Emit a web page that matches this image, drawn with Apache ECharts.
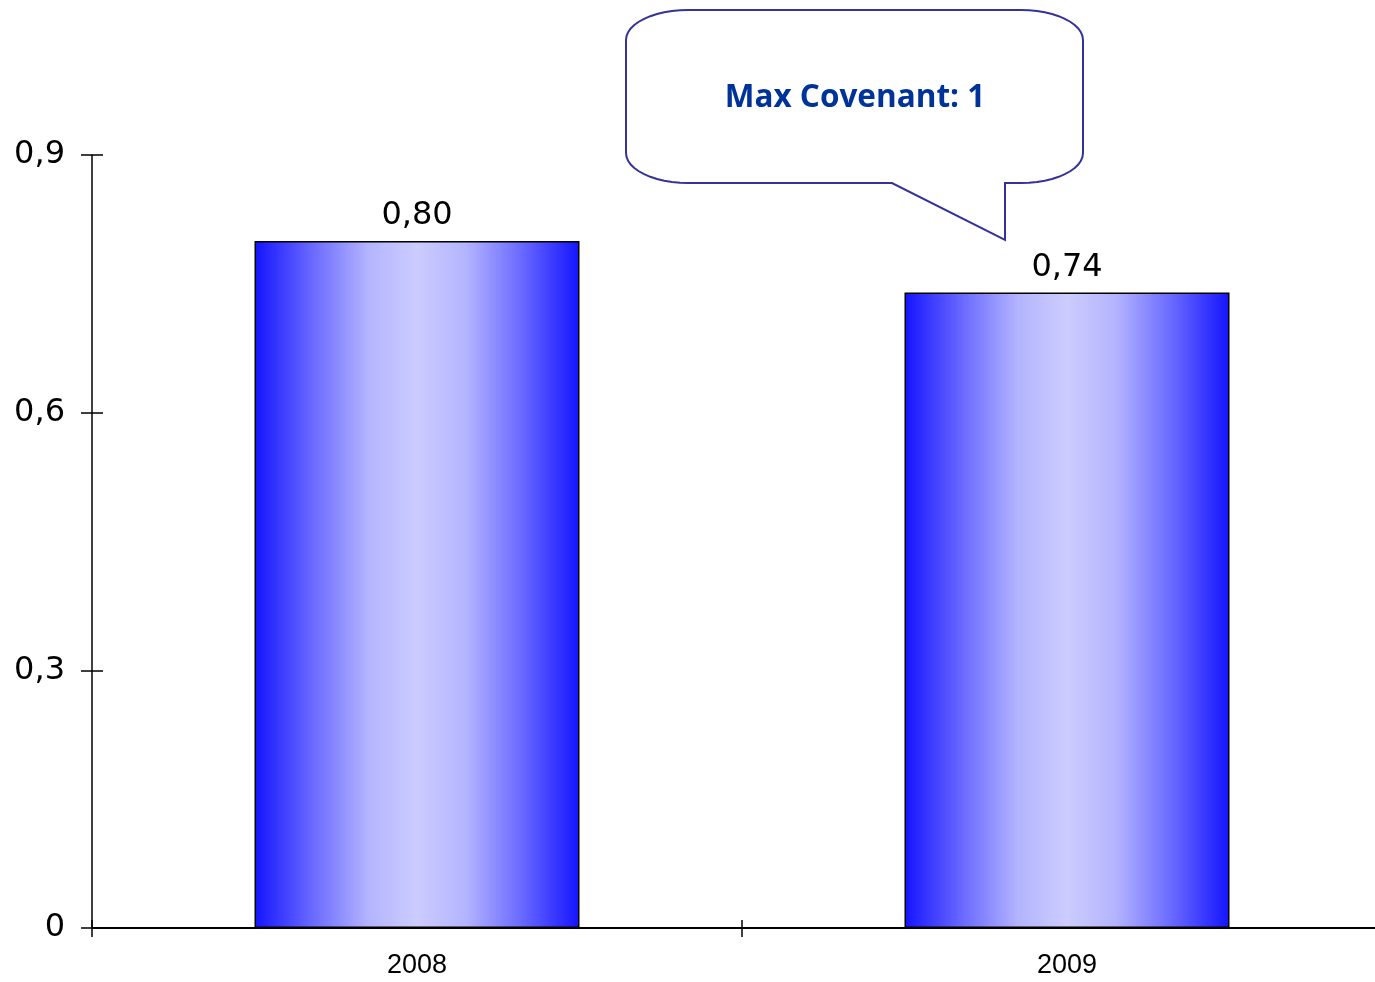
<!DOCTYPE html>
<html>
<head>
<meta charset="utf-8">
<script src="https://cdn.jsdelivr.net/npm/echarts@6/dist/echarts.min.js"></script>
<style>
html,body{margin:0;padding:0;background:#fff;}
#c{width:1375px;height:982px;}
</style>
</head>
<body>
<div id="c"></div>
<script>
var categories = ['2008', '2009'];
var values = [0.80, 0.74];
var yTicks = [0, 0.3, 0.6, 0.9];
var calloutText = 'Max Covenant: 1';

var chart = echarts.init(document.getElementById('c'));
var fill = {
  type: 'linear', x: 0, y: 0, x2: 1, y2: 0,
  colorStops: [
    {offset: 0, color: '#1414ff'},
    {offset: 0.18, color: '#6a6aff'},
    {offset: 0.35, color: '#b4b4ff'},
    {offset: 0.5, color: '#ccccff'},
    {offset: 0.65, color: '#b4b4ff'},
    {offset: 0.82, color: '#6a6aff'},
    {offset: 1, color: '#1414ff'}
  ]
};

// callout outline (annotation shape, not data)
function calloutPoints(L, T, R, B, rx, ry, p1, tipX, tipY) {
  var pts = [];
  function arc(cx, cy, a0, a1) {
    for (var i = 0; i <= 12; i++) {
      var a = a0 + (a1 - a0) * i / 12;
      pts.push([cx + rx * Math.cos(a), cy + ry * Math.sin(a)]);
    }
  }
  arc(L + rx, T + ry, Math.PI, Math.PI * 1.5);
  arc(R - rx, T + ry, Math.PI * 1.5, Math.PI * 2);
  arc(R - rx, B - ry, 0, Math.PI * 0.5);
  pts.push([tipX, B]);
  pts.push([tipX, tipY]);
  pts.push([p1, B]);
  arc(L + rx, B - ry, Math.PI * 0.5, Math.PI);
  return pts;
}

var yMax = yTicks[yTicks.length - 1];
var yFmt = function (v) { return v === 0 ? '0' : String(v).replace('.', ','); };

chart.setOption({
  animation: false,
  grid: {left: 92, width: 1300, top: 155, height: 773, containLabel: false, outerBoundsMode: 'none'},
  xAxis: [{
    type: 'category',
    data: categories,
    axisLine: {show: true, lineStyle: {color: '#000', width: 2}},
    axisTick: {show: true, inside: false, length: 9, lineStyle: {color: '#000', width: 1.5}},
    axisLabel: {color: '#000', fontSize: 27, fontFamily: 'Liberation Sans', margin: 24}
  }, {
    type: 'category',
    data: categories,
    position: 'bottom',
    axisLine: {show: false},
    axisTick: {show: true, inside: true, length: 8, lineStyle: {color: '#000', width: 1.5}},
    axisLabel: {show: false}
  }],
  yAxis: [{
    type: 'value',
    min: 0,
    max: yMax,
    interval: 0.3,
    splitLine: {show: false},
    axisLine: {show: true, lineStyle: {color: '#000', width: 1.5}},
    axisTick: {show: true, length: 11, lineStyle: {color: '#000', width: 1.5}},
    axisLabel: {color: '#000', fontSize: 32, fontFamily: 'DejaVu Sans', margin: 27, formatter: yFmt}
  }, {
    type: 'value',
    min: 0,
    max: yMax,
    interval: 0.3,
    position: 'left',
    splitLine: {show: false},
    axisLine: {show: false},
    axisTick: {show: true, inside: true, length: 11, lineStyle: {color: '#000', width: 1.5}},
    axisLabel: {show: false}
  }],
  series: [{
    type: 'bar',
    data: values,
    barWidth: '50%',
    itemStyle: {color: fill, borderColor: '#000', borderWidth: 1.5},
    label: {
      show: true, position: 'top', distance: 9,
      color: '#000', fontSize: 32, fontFamily: 'DejaVu Sans',
      formatter: function (p) { return p.value.toFixed(2).replace('.', ','); }
    }
  }],
  graphic: [
    {
      type: 'polygon',
      shape: {points: calloutPoints(626, 10, 1083, 183, 62, 30, 892, 1005, 240)},
      style: {fill: '#fff', stroke: '#333399', lineWidth: 2},
      z: 10
    },
    {
      type: 'text',
      x: 855, y: 98,
      style: {
        text: calloutText, fill: '#003399',
        font: 'bold 31.5px "Open Sans"',
        align: 'center', verticalAlign: 'middle'
      },
      z: 11
    }
  ]
});
</script>
</body>
</html>
